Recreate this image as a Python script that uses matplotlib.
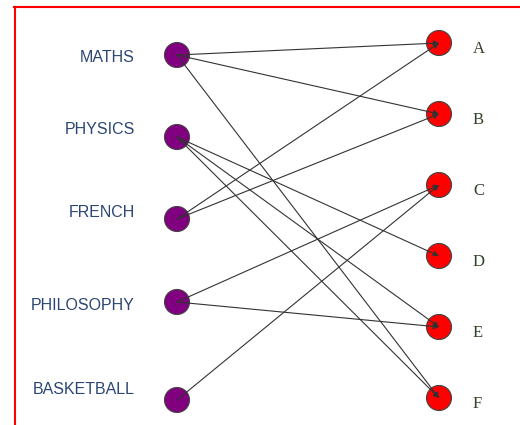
import matplotlib.pyplot as plt
from matplotlib.patches import Circle
from matplotlib.lines import Line2D

subjects = ['MATHS', 'PHYSICS', 'FRENCH', 'PHILOSOPHY', 'BASKETBALL']
groups = ['A', 'B', 'C', 'D', 'E', 'F']
links = [('MATHS', 'A'), ('MATHS', 'B'), ('MATHS', 'F'),
         ('PHYSICS', 'D'), ('PHYSICS', 'E'), ('PHYSICS', 'F'),
         ('FRENCH', 'A'), ('FRENCH', 'B'),
         ('PHILOSOPHY', 'C'), ('PHILOSOPHY', 'E'),
         ('BASKETBALL', 'C')]

# layout (pixel coords of the 520x425 canvas)
left_x, right_x = 177, 439
left_y = [55, 137, 219, 302, 400]
right_y = [43, 114, 185, 256, 327, 398]
left_label_y = [57, 129, 212, 306, 390]
r = 12.5

fig = plt.figure(figsize=(5.2, 4.25), dpi=100)
ax = fig.add_axes([0, 0, 1, 1])
ax.set_xlim(0, 520)
ax.set_ylim(425, 0)
ax.axis('off')

pos = {}
for name, y in zip(subjects, left_y):
    pos[name] = (left_x, y)
for name, y in zip(groups, right_y):
    pos[name] = (right_x, y)

for name, y in zip(subjects, left_y):
    ax.add_patch(Circle((left_x, y), r, facecolor='#800080', edgecolor='#444444', lw=0.8, zorder=2))
for name, y in zip(groups, right_y):
    ax.add_patch(Circle((right_x, y), r, facecolor='#ff0000', edgecolor='#444444', lw=0.8, zorder=2))

for a, b in links:
    ax.annotate('', xy=pos[b], xytext=pos[a],
                arrowprops=dict(arrowstyle='-|>', color='#333333', lw=0.8,
                                mutation_scale=8, shrinkA=0, shrinkB=0),
                zorder=3)

for name, y in zip(subjects, left_label_y):
    ax.text(135, y, name, ha='right', va='center', fontsize=11.5,
            family='Liberation Sans', color='#2b4674')
for name, y in zip(groups, right_y):
    ax.text(473, y + 6, name, ha='left', va='center', fontsize=12,
            family='Liberation Serif', color='#334228')

# red frame (top, left, right)
ax.add_line(Line2D([14, 519], [7, 7], color='red', lw=1.5))
ax.add_line(Line2D([14.5, 14.5], [7, 425], color='red', lw=1.5))

fig.savefig('out.png', dpi=100)
